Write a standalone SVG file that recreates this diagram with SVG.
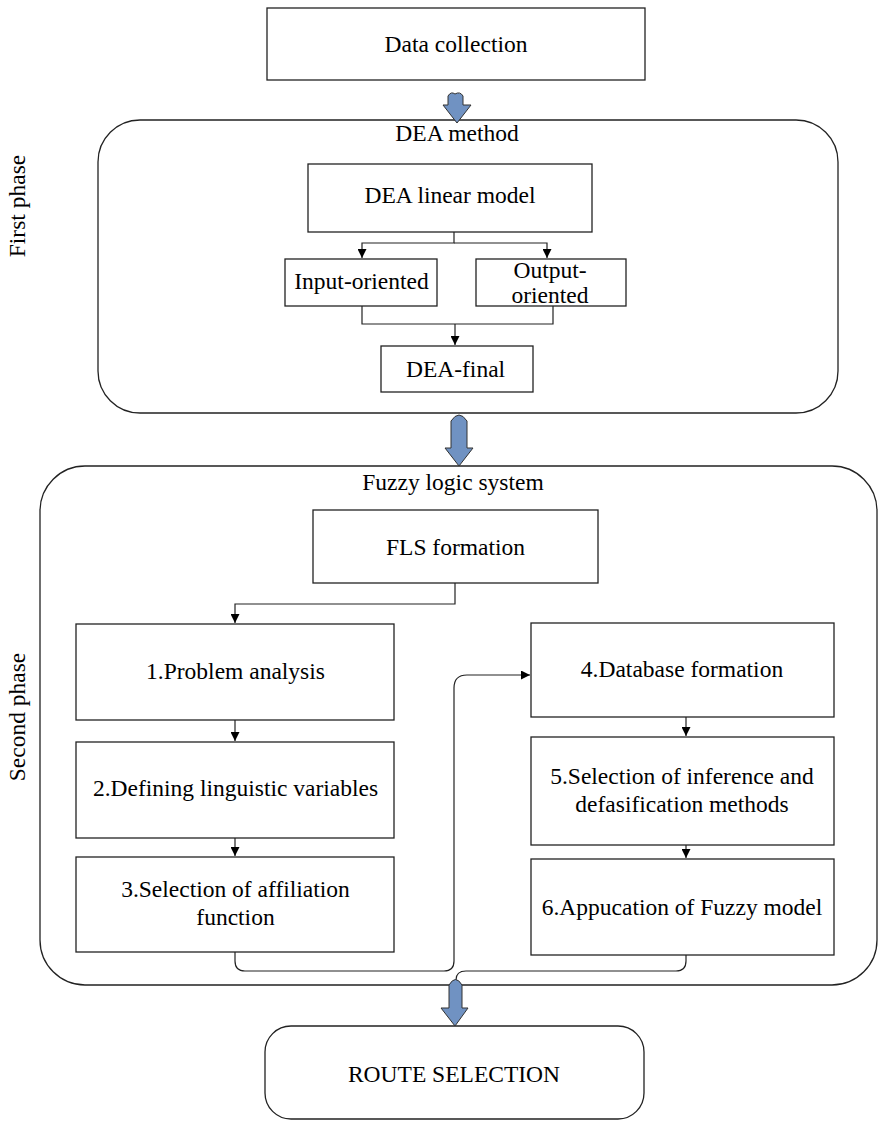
<svg xmlns="http://www.w3.org/2000/svg" width="878" height="1122" viewBox="0 0 878 1122">
<defs>
<style>
.box{fill:#fff;stroke:#222;stroke-width:1.3}
.cont{fill:none;stroke:#222;stroke-width:1.3}
.t{font-family:"Liberation Serif","Times New Roman",serif;font-size:23.5px;fill:#000;text-anchor:middle}
.c{fill:none;stroke:#222;stroke-width:1.2}
.ba{fill:#7092c2;stroke:#333;stroke-width:1}
</style>
<marker id="ah" viewBox="0 0 10 10" refX="10" refY="5" markerWidth="9" markerHeight="9" markerUnits="userSpaceOnUse" orient="auto">
<path d="M0,0 L10,5 L0,10 Z" fill="#000"/>
</marker>
</defs>
<rect width="878" height="1122" fill="#fff"/>

<text class="t" transform="translate(25,206) rotate(-90)">First phase</text>
<text class="t" transform="translate(25,717) rotate(-90)">Second phase</text>

<g id="container-dea">
<rect class="cont" x="98" y="120" width="740" height="293" rx="42"/>
<text class="t" x="457" y="141">DEA method</text>
</g>
<g id="container-fls">
<rect class="cont" x="40" y="466" width="837" height="519" rx="45"/>
<text class="t" x="453" y="490">Fuzzy logic system</text>
</g>

<g id="data-collection">
<rect class="box" x="267" y="8" width="378" height="72"/>
<text class="t" x="456" y="52">Data collection</text>
</g>
<g id="dea-linear">
<rect class="box" x="308" y="164" width="284" height="68"/>
<text class="t" x="450" y="203">DEA linear model</text>
</g>
<g id="input-oriented">
<rect class="box" x="285" y="259" width="152" height="47"/>
<text class="t" x="361.5" y="289">Input-oriented</text>
</g>
<g id="output-oriented">
<rect class="box" x="476" y="259" width="150" height="47"/>
<text class="t" x="550" y="278">Output-</text>
<text class="t" x="550" y="303">oriented</text>
</g>
<g id="dea-final">
<rect class="box" x="381" y="346" width="152" height="46"/>
<text class="t" x="455.5" y="377">DEA-final</text>
</g>
<g id="fls-formation">
<rect class="box" x="313" y="510" width="285" height="73"/>
<text class="t" x="455.5" y="555">FLS formation</text>
</g>
<g id="step1">
<rect class="box" x="76" y="624" width="318" height="96"/>
<text class="t" x="235.5" y="679">1.Problem analysis</text>
</g>
<g id="step2">
<rect class="box" x="76" y="742" width="318" height="96"/>
<text class="t" x="235.5" y="796">2.Defining linguistic variables</text>
</g>
<g id="step3">
<rect class="box" x="76" y="857" width="318" height="95"/>
<text class="t" x="235.5" y="897">3.Selection of affiliation</text>
<text class="t" x="235.5" y="925">function</text>
</g>
<g id="step4">
<rect class="box" x="531" y="623" width="303" height="94"/>
<text class="t" x="682" y="677">4.Database formation</text>
</g>
<g id="step5">
<rect class="box" x="531" y="737" width="303" height="108"/>
<text class="t" x="682" y="784">5.Selection of inference and</text>
<text class="t" x="682" y="812">defasification methods</text>
</g>
<g id="step6">
<rect class="box" x="531" y="859" width="303" height="96"/>
<text class="t" x="682" y="915">6.Appucation of Fuzzy model</text>
</g>
<g id="route-selection">
<rect class="box" x="265" y="1026" width="379" height="93" rx="26"/>
<text class="t" x="454" y="1082">ROUTE SELECTION</text>
</g>

<g id="connectors">
<path class="c" d="M454,232 V243 H362 V258" marker-end="url(#ah)"/>
<path class="c" d="M454,243 H547 V258" marker-end="url(#ah)"/>
<path class="c" d="M362,306 V324 H553 V306"/>
<path class="c" d="M455,324 V345" marker-end="url(#ah)"/>
<path class="c" d="M455,583 V604 H235 V623" marker-end="url(#ah)"/>
<path class="c" d="M235,720 V741" marker-end="url(#ah)"/>
<path class="c" d="M235,838 V856" marker-end="url(#ah)"/>
<path class="c" d="M235,952 V961 Q235,971 245,971 H444 Q454,971 454,961 V688 Q454,675 467,675 H530" marker-end="url(#ah)"/>
<path class="c" d="M686,717 V736" marker-end="url(#ah)"/>
<path class="c" d="M686,845 V858" marker-end="url(#ah)"/>
<path class="c" d="M686,955 V961 Q686,971 676,971 H466 Q456,971 456,980"/>
<path class="ba" d="M448,96 Q451,91 455,94 Q460,91 463,96 V105 H471 L457,123 L443,105 H448 Z"/>
<path class="ba" d="M451,421 Q459,409 467,421 V448 H473 L459,466 L445,448 H451 Z"/>
<path class="ba" d="M449,985 Q455.5,974 462,985 V1008 H468 L455,1026 L441,1008 H449 Z"/>
</g>
</svg>
